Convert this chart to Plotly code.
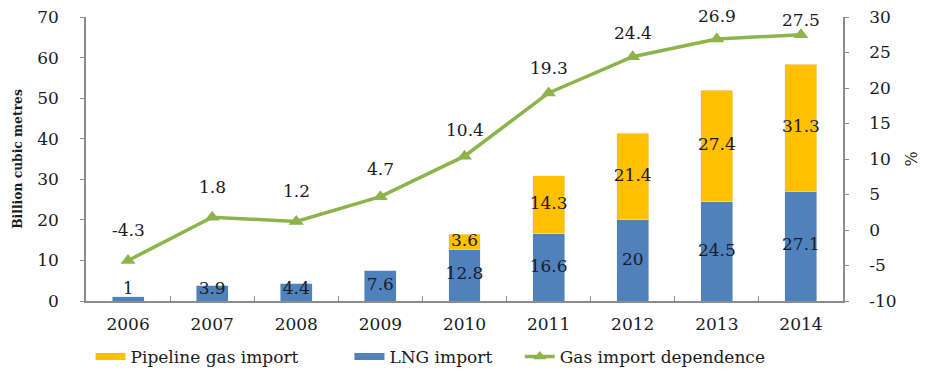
import plotly.graph_objects as go

years = ["2006", "2007", "2008", "2009", "2010", "2011", "2012", "2013", "2014"]
lng_import = [1, 3.9, 4.4, 7.6, 12.8, 16.6, 20, 24.5, 27.1]
pipeline_import = [0, 0, 0, 0, 3.6, 14.3, 21.4, 27.4, 31.3]
dependence = [-4.3, 1.8, 1.2, 4.7, 10.4, 19.3, 24.4, 26.9, 27.5]
left_ticks = [0, 10, 20, 30, 40, 50, 60, 70]
right_ticks = [-10, -5, 0, 5, 10, 15, 20, 25, 30]

# pixel lift of each dependence label above its marker
label_lift = [31, 30, 30, 28, 26, 25, 24, 23, 15]

YELLOW = "#FFC000"
BLUE = "#4F81BD"
GREEN = "#8DB44A"
FONT = "DejaVu Serif"
FS = 17

fig = go.Figure()

fig.add_trace(go.Bar(x=years, y=lng_import, marker_color=BLUE, width=0.38,
                     showlegend=False, hoverinfo="skip"))
fig.add_trace(go.Bar(x=years, y=pipeline_import, marker_color=YELLOW, width=0.38,
                     showlegend=False, hoverinfo="skip"))

# segment labels, centred in each stacked segment (tiny segments get lifted)
lng_label_y = [max(v / 2, 2.8) for v in lng_import]
fig.add_trace(go.Scatter(x=years, y=lng_label_y, mode="text",
                         text=[f"{v:g}" for v in lng_import],
                         textfont=dict(family=FONT, size=FS, color="#1b1b2a"),
                         showlegend=False, hoverinfo="skip"))
pipe_x = [y for y, p in zip(years, pipeline_import) if p > 0]
pipe_vals = [p for p in pipeline_import if p > 0]
pipe_label_y = [l + p / 2 for l, p in zip(lng_import, pipeline_import) if p > 0]
fig.add_trace(go.Scatter(x=pipe_x, y=pipe_label_y, mode="text",
                         text=[f"{v:g}" for v in pipe_vals],
                         textfont=dict(family=FONT, size=FS, color="#1b1b1b"),
                         showlegend=False, hoverinfo="skip"))

fig.add_trace(go.Scatter(x=years, y=dependence, yaxis="y2", mode="lines+markers",
                         line=dict(color=GREEN, width=3.5),
                         marker=dict(symbol="triangle-up", size=13, color=GREEN),
                         showlegend=False, hoverinfo="skip"))

# value labels above the dependence line (x given as category index)
for i, (v, lift) in enumerate(zip(dependence, label_lift)):
    fig.add_annotation(x=i, y=v, xref="x", yref="y2", text=f"{v:g}", showarrow=False,
                       yshift=lift, font=dict(family=FONT, size=FS, color="#1b1b1b"))

# legend entries, each in its own legend box along the bottom
fig.add_trace(go.Scatter(x=[None], y=[None], mode="lines", name="Pipeline gas import",
                         line=dict(color=YELLOW, width=7), legend="legend"))
fig.add_trace(go.Scatter(x=[None], y=[None], mode="lines", name="LNG import",
                         line=dict(color=BLUE, width=7), legend="legend2"))
fig.add_trace(go.Scatter(x=[None], y=[None], mode="lines+markers", name="Gas import dependence",
                         line=dict(color=GREEN, width=3.5),
                         marker=dict(symbol="triangle-up", size=11, color=GREEN),
                         legend="legend3"))

axis_col = "#8c8c8c"
legend_common = dict(orientation="h", y=-0.197, yanchor="middle", xanchor="left",
                     font=dict(size=FS), bgcolor="rgba(0,0,0,0)")
fig.update_layout(
    width=925, height=374,
    margin=dict(l=86, r=82, t=17, b=73, autoexpand=False),
    barmode="stack",
    plot_bgcolor="white", paper_bgcolor="white",
    font=dict(family=FONT, size=FS, color="#1b1b1b"),
    xaxis=dict(type="category", showline=True, linecolor=axis_col, linewidth=1.5,
               ticks="inside", ticklen=5, tickcolor=axis_col, tickson="boundaries",
               showgrid=False, tickfont=dict(size=FS), ticklabelstandoff=7,
               range=[-0.5, 8.5]),
    yaxis=dict(range=[0, 70], tickvals=left_ticks, ticktext=[str(t) for t in left_ticks],
               showline=True, linecolor=axis_col, linewidth=1.5,
               ticks="outside", ticklen=4, tickcolor=axis_col, showgrid=False, zeroline=False,
               ticklabelstandoff=18,
               title=dict(text="<b>Billion cubic metres</b>", font=dict(size=12.3), standoff=12)),
    yaxis2=dict(range=[-10, 30], tickvals=right_ticks, ticktext=[str(t) for t in right_ticks],
                overlaying="y", side="right",
                showline=True, linecolor=axis_col, linewidth=1.5,
                ticks="outside", ticklen=4, tickcolor=axis_col, showgrid=False, zeroline=False,
                ticklabelstandoff=17,
                title=dict(text="%", font=dict(size=16), standoff=10)),
    legend=dict(x=0.006, **legend_common),
    legend2=dict(x=0.348, **legend_common),
    legend3=dict(x=0.573, **legend_common),
)

fig.write_html("out.html")
